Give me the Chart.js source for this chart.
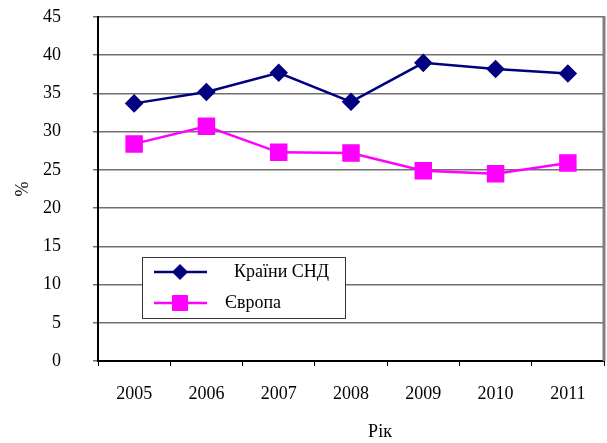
<!DOCTYPE html>
<html>
<head>
<meta charset="utf-8">
<title>Країни СНД / Європа</title>
<script src="https://cdn.jsdelivr.net/npm/chart.js"></script>
<style>
  body { margin: 0; background: #fff; }
</style>
</head>
<body>
<canvas id="chart" width="607" height="443"></canvas>
<script>
  const years = ['2005', '2006', '2007', '2008', '2009', '2010', '2011'];
  const cisValues = [33.7, 35.2, 37.7, 33.9, 39.0, 38.2, 37.6];
  const europeValues = [28.4, 30.7, 27.3, 27.2, 24.9, 24.5, 25.9];
  const seriesNames = ['Країни СНД', 'Європа'];
  const yTitle = '%';
  const xTitle = 'Рік';

  const font = { family: '"Liberation Serif", "Times New Roman", serif', size: 18 };

  // legend box drawn inside the plot, like the original
  const insideLegend = {
    id: 'insideLegend',
    afterDraw(chart) {
      const ctx = chart.ctx;
      ctx.save();
      ctx.strokeStyle = '#333';
      ctx.lineWidth = 1;
      ctx.fillStyle = '#fff';
      ctx.fillRect(142.5, 257.5, 203, 61);
      ctx.strokeRect(142.5, 257.5, 203, 61);
      const rows = [272, 303];
      const textX = [234, 225];
      chart.data.datasets.forEach((ds, i) => {
        const y = rows[i];
        ctx.strokeStyle = ds.borderColor;
        ctx.lineWidth = 2.5;
        ctx.beginPath();
        ctx.moveTo(154, y);
        ctx.lineTo(207, y);
        ctx.stroke();
        ctx.fillStyle = ds.backgroundColor;
        ctx.lineWidth = 1;
        Chart.helpers.drawPoint(ctx, {
          pointStyle: ds.pointStyle,
          radius: ds.pointRadius,
          borderWidth: 1
        }, 180, y);
        ctx.fillStyle = '#000';
        ctx.font = font.size + 'px ' + font.family;
        ctx.textBaseline = 'middle';
        ctx.textAlign = 'left';
        ctx.fillText(ds.label, textX[i], y);
      });
      // x axis title, sits a bit right of centre in the original
      ctx.fillStyle = '#000';
      ctx.textAlign = 'center';
      ctx.fillText(xTitle, 380, 432);
      ctx.restore();
    },
    beforeDatasetsDraw(chart) {
      const a = chart.chartArea;
      const ctx = chart.ctx;
      ctx.save();
      ctx.strokeStyle = '#808080';
      ctx.lineWidth = 3;
      ctx.beginPath();
      ctx.moveTo(a.right, a.top - 1);
      ctx.lineTo(a.right, a.bottom);
      ctx.stroke();
      ctx.restore();
    }
  };

  new Chart(document.getElementById('chart'), {
    type: 'line',
    data: {
      labels: years,
      datasets: [{
        label: seriesNames[0],
        data: cisValues,
        borderColor: '#000080',
        backgroundColor: '#000080',
        borderWidth: 2.5,
        pointStyle: 'rectRot',
        pointRadius: 7.5,
        pointHoverRadius: 7.5,
        tension: 0
      }, {
        label: seriesNames[1],
        data: europeValues,
        borderColor: '#ff00ff',
        backgroundColor: '#ff00ff',
        borderWidth: 2.5,
        pointStyle: 'rect',
        pointRadius: 10.6,
        pointHoverRadius: 10.6,
        tension: 0
      }]
    },
    options: {
      responsive: false,
      animation: false,
      layout: { autoPadding: false, padding: { top: 17, right: 3, left: 0, bottom: 0 } },
      plugins: {
        legend: { display: false },
        tooltip: { enabled: false }
      },
      scales: {
        x: {
          offset: true,
          afterFit(scale) {
            scale.height = 82;
            scale.paddingLeft = 0;
            scale.paddingRight = 0;
          },
          grid: {
            offset: true,
            drawOnChartArea: false,
            tickLength: 5,
            tickColor: '#000',
            tickWidth: 1
          },
          border: { color: '#000', width: 2 },
          ticks: { color: '#000', font: font, padding: 17, maxRotation: 0 }
        },
        y: {
          min: 0,
          max: 45,
          afterFit(scale) {
            scale.width = 98;
            scale.paddingTop = 0;
            scale.paddingBottom = 0;
          },
          grid: {
            color: '#707070',
            lineWidth: 1.5,
            tickLength: 5,
            tickColor: '#707070'
          },
          border: { color: '#000', width: 2 },
          ticks: { stepSize: 5, color: '#000', font: font, padding: 32 },
          title: {
            display: true,
            text: yTitle,
            color: '#000',
            font: font,
            padding: { top: 12, bottom: 0 }
          }
        }
      }
    },
    plugins: [insideLegend]
  });
</script>
</body>
</html>
